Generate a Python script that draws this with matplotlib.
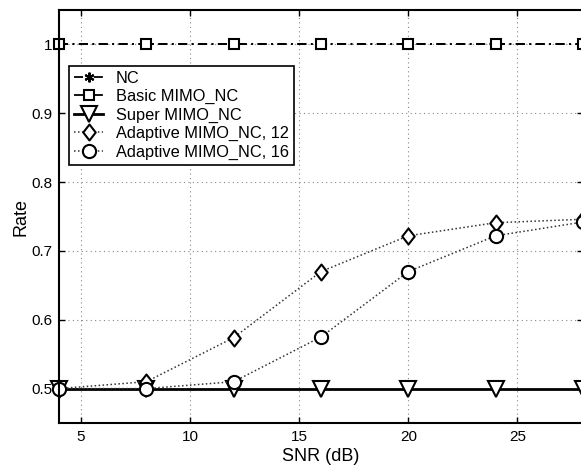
import matplotlib
matplotlib.use("Agg")
import matplotlib.pyplot as plt
from matplotlib.path import Path

plt.rcParams['font.family'] = ['Liberation Sans', 'DejaVu Sans']

snr = [4, 8, 12, 16, 20, 24, 28]
nc = [1, 1, 1, 1, 1, 1, 1]
basic = [1, 1, 1, 1, 1, 1, 1]
super_ = [0.5, 0.5, 0.5, 0.5, 0.5, 0.5, 0.5]
adapt12 = [0.5, 0.51, 0.574, 0.67, 0.722, 0.741, 0.746]
adapt16 = [0.5, 0.5, 0.51, 0.575, 0.67, 0.722, 0.742]
labels = ['NC', 'Basic MIMO_NC', 'Super MIMO_NC', 'Adaptive MIMO_NC, 12', 'Adaptive MIMO_NC, 16']

fig = plt.figure(figsize=(5.81, 4.68), dpi=100)
ax = fig.add_axes([59/581, 1 - 423/468, (583 - 59)/581, (423 - 10)/468])

diamond = Path([(0, 1), (0.78, 0), (0, -1), (-0.78, 0), (0, 1)],
               [Path.MOVETO, Path.LINETO, Path.LINETO, Path.LINETO, Path.CLOSEPOLY])

lw = 1.3
mew = 1.5
ax.plot(snr, nc, color='k', lw=lw, ls=(0, (5, 2.5, 1, 2.5)), marker=(6, 2, 0), ms=7, mew=mew,
        label=labels[0], clip_on=False)
ax.plot(snr, basic, color='k', lw=lw, ls=(0, (5, 2.5, 1, 2.5)), marker='s', ms=6.8, mfc='white', mew=mew,
        label=labels[1], clip_on=False)
ax.plot(snr, super_, '-', color='k', lw=2.0, marker='v', ms=11, mfc='white', mew=mew,
        label=labels[2], clip_on=False)
ax.plot(snr, adapt12, color='#333333', lw=1.1, ls=(0, (1, 1.6)), marker=diamond, ms=11.5, mfc='white',
        mec='k', mew=mew, label=labels[3], clip_on=False)
ax.plot(snr, adapt16, color='#333333', lw=1.1, ls=(0, (1, 1.6)), marker='o', ms=9.5, mfc='white',
        mec='k', mew=mew, label=labels[4], clip_on=False)

ax.set_xlim(4, 28)
ax.set_ylim(0.45, 1.05)
ax.set_xticks([5, 10, 15, 20, 25])
ax.set_yticks([0.5, 0.6, 0.7, 0.8, 0.9, 1.0])
ax.set_yticklabels(['0.5', '0.6', '0.7', '0.8', '0.9', '1'])
ax.tick_params(direction='in', top=True, right=True, labelsize=11, length=4, width=1, pad=5)
ax.grid(True, linestyle=(0, (1, 3)), color='#888888', lw=0.8)
for s in ax.spines.values():
    s.set_linewidth(1.5)

ax.set_xlabel('SNR (dB)', fontsize=13, labelpad=3)
ax.set_ylabel('Rate', fontsize=13, labelpad=1)

leg = ax.legend(loc='upper left', bbox_to_anchor=((69 - 59)/524, 1 - (66 - 10)/413),
                bbox_transform=ax.transAxes, fontsize=11.8, frameon=True, fancybox=False,
                edgecolor='k', handlelength=1.8, handletextpad=0.75, borderpad=0.3,
                labelspacing=0.2, borderaxespad=0)
leg.get_frame().set_linewidth(1.2)
leg.get_frame().set_alpha(1)

fig.savefig('out.png', dpi=100)
